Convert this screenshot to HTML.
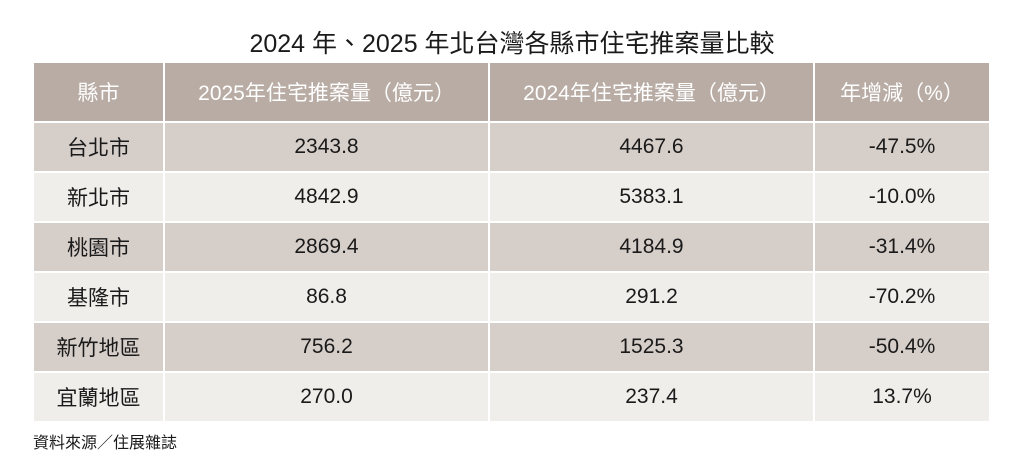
<!DOCTYPE html>
<html><head><meta charset="utf-8"><style>
body{margin:0;width:1024px;height:476px;background:#fff;font-family:"Liberation Sans","Noto Sans CJK TC",sans-serif;position:relative;overflow:hidden}
.t{position:absolute;top:27px;left:0;width:1024px;text-align:center;font-size:25px;color:#1a1a1a;line-height:34px}
table{position:absolute;left:32px;top:61px;border-collapse:collapse}
td{border:2px solid #fff;text-align:center;font-size:21px;color:#1a1a1a;height:48px;padding:0}
tr.h td{background:#b8aca4;color:#fff;height:58px;font-size:21px}
tr.d td{background:#d6cec9}
tr.l td{background:#efeeeb}
.s{position:absolute;left:33px;top:429px;font-size:16px;color:#1a1a1a}
</style></head><body>
<div class="t">2024 年、2025 年北台灣各縣市住宅推案量比較</div>
<table>
<colgroup><col style="width:131px"><col style="width:325px"><col style="width:325px"><col style="width:176px"></colgroup>
<tr class="h"><td>縣市</td><td>2025年住宅推案量（億元）</td><td>2024年住宅推案量（億元）</td><td>年增減（%）</td></tr>
<tr class="d"><td>台北市</td><td>2343.8</td><td>4467.6</td><td>-47.5%</td></tr>
<tr class="l"><td>新北市</td><td>4842.9</td><td>5383.1</td><td>-10.0%</td></tr>
<tr class="d"><td>桃園市</td><td>2869.4</td><td>4184.9</td><td>-31.4%</td></tr>
<tr class="l"><td>基隆市</td><td>86.8</td><td>291.2</td><td>-70.2%</td></tr>
<tr class="d"><td>新竹地區</td><td>756.2</td><td>1525.3</td><td>-50.4%</td></tr>
<tr class="l"><td>宜蘭地區</td><td>270.0</td><td>237.4</td><td>13.7%</td></tr>
</table>
<div class="s">資料來源／住展雜誌</div>
</body></html>
